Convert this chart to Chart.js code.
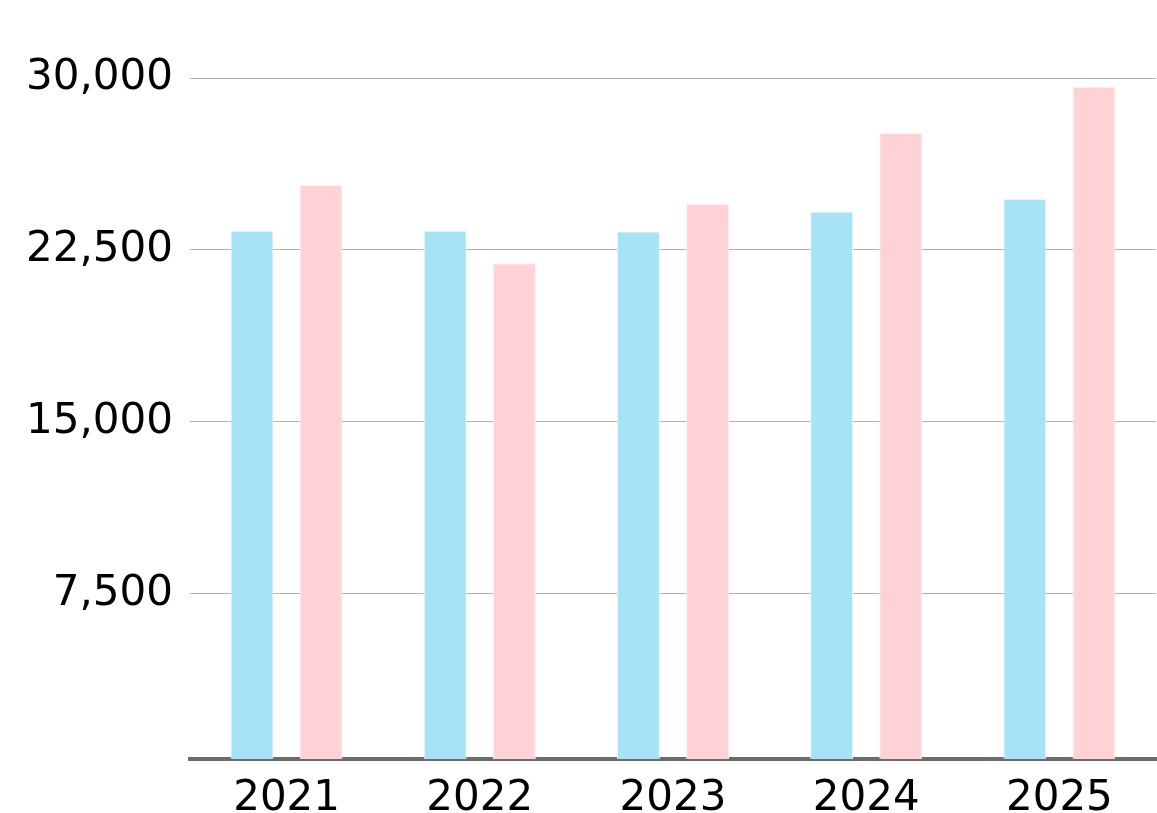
<!DOCTYPE html>
<html>
<head>
<meta charset="utf-8">
<script src="https://cdn.jsdelivr.net/npm/chart.js@4/dist/chart.umd.min.js"></script>
<style>
  html, body { margin: 0; padding: 0; background: #fff; }
  #wrap { width: 1157px; height: 813px; }
</style>
</head>
<body>
<div id="wrap"><canvas id="grafica" width="1157" height="813"></canvas></div>
<script>
// Datos
const years = ['2021', '2022', '2023', '2024', '2025'];
const seriesBlue = [23340, 23340, 23310, 24170, 24720];
const seriesPink = [25330, 21920, 24520, 27600, 29620];
const yTicks = [7500, 15000, 22500, 30000];

const ctx = document.getElementById('grafica').getContext('2d');

new Chart(ctx, {
    type: 'bar',
    data: {
        labels: years,
        datasets: [
            {
                data: seriesBlue,
                backgroundColor: '#a6e3f7',
                borderColor: '#e6f7fd',
                borderWidth: 1,
                categoryPercentage: 0.716,
                barPercentage: 0.62
            },
            {
                data: seriesPink,
                backgroundColor: '#ffd2d6',
                borderColor: '#fff0f1',
                borderWidth: 1,
                categoryPercentage: 0.716,
                barPercentage: 0.62
            }
        ]
    },
    options: {
        responsive: false,
        animation: false,
        layout: { padding: { top: 78, right: 1, left: 0, bottom: 0 } },
        plugins: {
            legend: { display: false },
            tooltip: { enabled: false }
        },
        scales: {
            x: {
                grid: { display: false },
                border: { display: true, color: '#6b6b6b', width: 4 },
                ticks: {
                    color: '#000',
                    font: { family: 'DejaVu Sans', size: 42 },
                    padding: 7
                },
                afterFit: (scale) => { scale.height = 54; }
            },
            y: {
                min: 300,
                max: 30000,
                grid: { color: '#b3b3b3', lineWidth: 1, drawTicks: false },
                border: { display: false },
                ticks: {
                    color: '#000',
                    font: { family: 'DejaVu Sans', size: 42 },
                    padding: 17,
                    callback: (v) => v.toLocaleString('en-US')
                },
                afterBuildTicks: (scale) => {
                    scale.ticks = yTicks.map(v => ({ value: v }));
                },
                afterFit: (scale) => { scale.width = 190; }
            }
        }
    }
});
</script>
</body>
</html>
